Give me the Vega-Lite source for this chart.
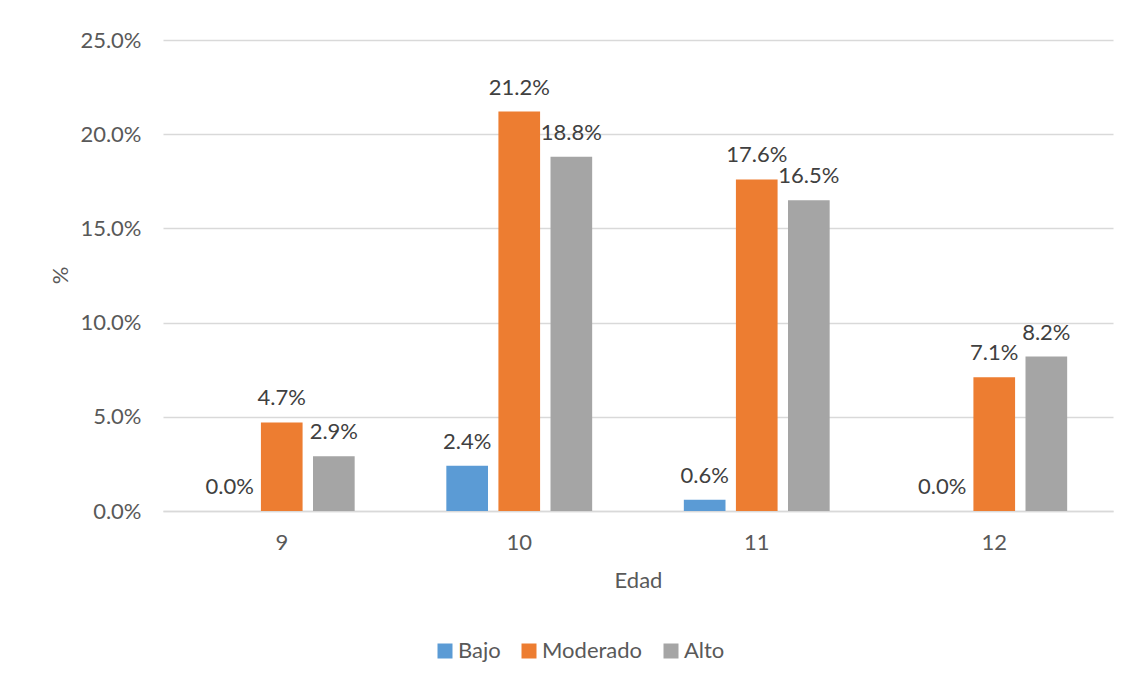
{
  "$schema": "https://vega.github.io/schema/vega-lite/v6.json",
  "autosize": "none",
  "width": 950,
  "height": 471,
  "padding": {"left": 163, "top": 40, "right": 18, "bottom": 173},
  "background": "white",
  "config": {
    "font": "Lato",
    "view": {"stroke": null},
    "axis": {"labelFont": "Lato", "titleFont": "Lato", "labelColor": "#595959", "titleColor": "#595959", "labelFontSize": 22, "titleFontSize": 22, "titleFontWeight": "normal"}
  },
  "data": {
    "values": [
      {"edad": "9", "nivel": "Bajo", "pct": 0.0},
      {"edad": "9", "nivel": "Moderado", "pct": 0.047},
      {"edad": "9", "nivel": "Alto", "pct": 0.029},
      {"edad": "10", "nivel": "Bajo", "pct": 0.024},
      {"edad": "10", "nivel": "Moderado", "pct": 0.212},
      {"edad": "10", "nivel": "Alto", "pct": 0.188},
      {"edad": "11", "nivel": "Bajo", "pct": 0.006},
      {"edad": "11", "nivel": "Moderado", "pct": 0.176},
      {"edad": "11", "nivel": "Alto", "pct": 0.165},
      {"edad": "12", "nivel": "Bajo", "pct": 0.0},
      {"edad": "12", "nivel": "Moderado", "pct": 0.071},
      {"edad": "12", "nivel": "Alto", "pct": 0.082}
    ]
  },
  "encoding": {
    "x": {
      "field": "edad", "type": "nominal", "sort": ["9", "10", "11", "12"],
      "scale": {"paddingInner": 0, "paddingOuter": 0},
      "axis": {
        "title": "Edad", "labelAngle": 0, "ticks": false, "labelPadding": 21,
        "domainColor": "#D9D9D9", "domainWidth": 1.5,
        "titleY": 69, "titleBaseline": "middle"
      }
    },
    "xOffset": {
      "field": "nivel", "type": "nominal", "sort": ["Bajo", "Moderado", "Alto"],
      "scale": {"paddingInner": 0.2, "paddingOuter": 0.88}
    },
    "y": {
      "field": "pct", "type": "quantitative",
      "scale": {"domain": [0, 0.25], "nice": false},
      "axis": {
        "title": "%", "format": ".1%", "values": [0, 0.05, 0.1, 0.15, 0.2, 0.25],
        "domain": false, "ticks": false, "labelPadding": 22,
        "gridColor": "#D9D9D9", "gridWidth": 1.3,
        "titleAngle": -90, "titleX": -103, "titleY": 235, "titleBaseline": "middle", "titleAlign": "center"
      }
    }
  },
  "layer": [
    {
      "mark": {"type": "bar"},
      "encoding": {
        "color": {
          "field": "nivel", "type": "nominal", "sort": ["Bajo", "Moderado", "Alto"],
          "scale": {"domain": ["Bajo", "Moderado", "Alto"], "range": ["#5B9BD5", "#ED7D31", "#A5A5A5"]},
          "legend": {
            "title": null, "orient": "none", "direction": "horizontal",
            "legendX": 271, "legendY": 600,
            "symbolType": "square", "symbolSize": 225, "symbolStrokeWidth": 0,
            "labelFont": "Lato", "labelFontSize": 22, "labelColor": "#595959",
            "labelOffset": 2, "columnPadding": 17
          }
        }
      }
    },
    {
      "mark": {"type": "text", "baseline": "alphabetic", "dy": -17, "fontSize": 22, "color": "#404040", "font": "Lato"},
      "encoding": {
        "text": {"field": "pct", "type": "quantitative", "format": ".1%"}
      }
    }
  ]
}
